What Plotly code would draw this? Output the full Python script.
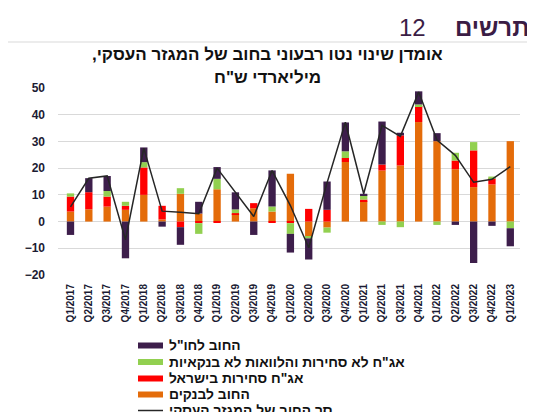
import plotly.graph_objects as go

quarters = ["Q1/2017", "Q2/2017", "Q3/2017", "Q4/2017", "Q1/2018", "Q2/2018", "Q3/2018", "Q4/2018",
            "Q1/2019", "Q2/2019", "Q3/2019", "Q4/2019", "Q1/2020", "Q2/2020", "Q3/2020", "Q4/2020",
            "Q1/2021", "Q2/2021", "Q3/2021", "Q4/2021", "Q1/2022", "Q2/2022", "Q3/2022", "Q4/2022",
            "Q1/2023"]

bank_debt = [3.75, 4.6, 5.6, 4.4, 10.0, 0.8, 10.4, 3.0, 12.1, 2.75, 5.0, 3.75, 17.9, -5.4, -2.25,
             22.3, 7.6, 19.1, 21.0, 37.25, 30.1, 19.6, 12.9, 13.9, 30.1]
tradable_bonds = [5.6, 6.4, 3.75, 1.5, 10.25, 5.1, -2.1, -0.6, -0.3, 0.4, 1.9, -0.3, -0.6, 4.75, 4.4,
                  1.5, 0.65, 2.25, 11.25, 6.0, 0.0, 3.25, 13.75, 2.35, 0.0]
nontradable_loans = [1.2, 0.0, 2.1, 1.5, 2.0, 0.0, 2.1, -4.0, 3.9, 1.4, 0.0, 1.9, -4.0, -0.9, -1.9,
                     2.5, 1.5, -1.25, -2.1, 0.6, -1.25, 2.9, 3.1, 0.6, -2.5]
foreign_debt = [-5.0, 5.25, 5.6, -13.75, 5.5, -1.9, -6.6, 4.4, 4.4, 6.4, -5.0, 13.5, -7.0, -7.9, 10.6,
                10.8, 0.65, 16.1, 1.0, 4.9, 3.0, -1.25, -15.5, -1.6, -6.75]
total_debt = [5.5, 16.2, 17.1, -6.8, 27.5, 3.9, 3.5, 2.9, 20.0, 10.8, 1.9, 19.1, 6.0, -9.8, 14.5,
              37.2, 10.4, 36.0, 31.9, 48.5, 30.5, 24.8, 14.7, 15.8, 20.6]

series_names = ['החוב לחו"ל', 'אג"ח לא סחירות והלוואות לא בנקאיות', 'אג"ח סחירות בישראל',
                'החוב לבנקים', 'סך החוב של המגזר העסקי']

C_PURPLE = "#3d1e4b"
C_GREEN = "#92d050"
C_RED = "#ff0000"
C_ORANGE = "#e46c0a"
C_LINE = "#262626"
FONT = "Liberation Sans, Arial"

# the page body adds an 8px offset; figure is sized to fit the window
OFF = 8
W, H = 535 - OFF, 412 - OFF
# plot area in page pixel coordinates
PL, PR, PT, PB = 58, 520, 88, 275


def xp(px):
    return (px - PL) / (PR - PL)


def yp(py):
    return (PB - py) / (PB - PT)


fig = go.Figure()
for name, vals, col in [(series_names[3], bank_debt, C_ORANGE),
                        (series_names[2], tradable_bonds, C_RED),
                        (series_names[1], nontradable_loans, C_GREEN),
                        (series_names[0], foreign_debt, C_PURPLE)]:
    fig.add_trace(go.Bar(x=quarters, y=vals, name=name, marker=dict(color=col, line=dict(width=0)),
                         showlegend=False, width=0.4))
fig.add_trace(go.Scatter(x=quarters, y=total_debt, mode="lines", name=series_names[4],
                         line=dict(color=C_LINE, width=1.5), showlegend=False))

shapes = []
annotations = []

# outer frame
shapes.append(dict(type="rect", xref="paper", yref="paper", x0=xp(7), x1=xp(560), y0=yp(42), y1=yp(440),
                   line=dict(color="#d9d9d9", width=1), fillcolor="rgba(0,0,0,0)", layer="below"))

# header
annotations.append(dict(xref="paper", yref="paper", x=xp(531), y=yp(27), xanchor="right", yanchor="middle",
                        text="<b>תרשים</b>", showarrow=False,
                        font=dict(family=FONT, size=24, color="#3b1d45")))
annotations.append(dict(xref="paper", yref="paper", x=xp(428), y=yp(27), xanchor="right", yanchor="middle",
                        text="12", showarrow=False,
                        font=dict(family=FONT, size=24, color="#3b1d45")))
annotations.append(dict(xref="paper", yref="paper", x=xp(267), y=yp(55), xanchor="center", yanchor="middle",
                        text="<b>,אומדן שינוי נטו רבעוני בחוב של המגזר העסקי</b>", showarrow=False,
                        font=dict(family=FONT, size=17, color="#111111")))
annotations.append(dict(xref="paper", yref="paper", x=xp(267), y=yp(77), xanchor="center", yanchor="middle",
                        text='<b>מיליארדי ש"ח</b>', showarrow=False,
                        font=dict(family=FONT, size=17, color="#111111")))

# manual legend
legend_items = [(series_names[0], C_PURPLE, "bar"), (series_names[1], C_GREEN, "bar"),
                (series_names[2], C_RED, "bar"), (series_names[3], C_ORANGE, "bar"),
                (series_names[4], C_LINE, "line")]
row_y = [345.5, 362, 378.5, 394.5, 410.5]
for (name, col, kind), ry in zip(legend_items, row_y):
    if kind == "bar":
        shapes.append(dict(type="rect", xref="paper", yref="paper", x0=xp(138), x1=xp(163),
                           y0=yp(ry + 3), y1=yp(ry - 3), fillcolor=col, line=dict(width=0)))
    else:
        shapes.append(dict(type="line", xref="paper", yref="paper", x0=xp(138), x1=xp(163),
                           y0=yp(ry), y1=yp(ry), line=dict(color=col, width=1.5)))
    annotations.append(dict(xref="paper", yref="paper", x=xp(167), y=yp(ry), xanchor="left", yanchor="middle",
                            text="<b>" + name + "</b>", showarrow=False,
                            font=dict(family=FONT, size=13.8, color="#111111")))

fig.update_layout(
    width=W, height=H,
    margin=dict(l=PL - OFF, r=W - (PR - OFF), t=PT - OFF, b=H - (PB - OFF), pad=0, autoexpand=False),
    paper_bgcolor="white", plot_bgcolor="white",
    barmode="relative", bargap=0.6,
    showlegend=False,
    shapes=shapes, annotations=annotations,
    font=dict(family=FONT),
)
fig.update_xaxes(type="category", range=[-0.682, 24.53], showgrid=False, showline=False, ticks="",
                 automargin=False, tickangle=-90, ticklabelstandoff=6,
                 tickfont=dict(family=FONT, size=10, color="#1b1b33", weight="bold"))
fig.update_yaxes(range=[-20, 50], dtick=10, tick0=0, showgrid=True, gridcolor="#d9d9d9", gridwidth=1,
                 zeroline=False, showline=False, ticks="", ticklabelstandoff=12, automargin=False,
                 tickfont=dict(family=FONT, size=12, color="#1b1b33", weight="bold"))

fig.write_html("out.html")
